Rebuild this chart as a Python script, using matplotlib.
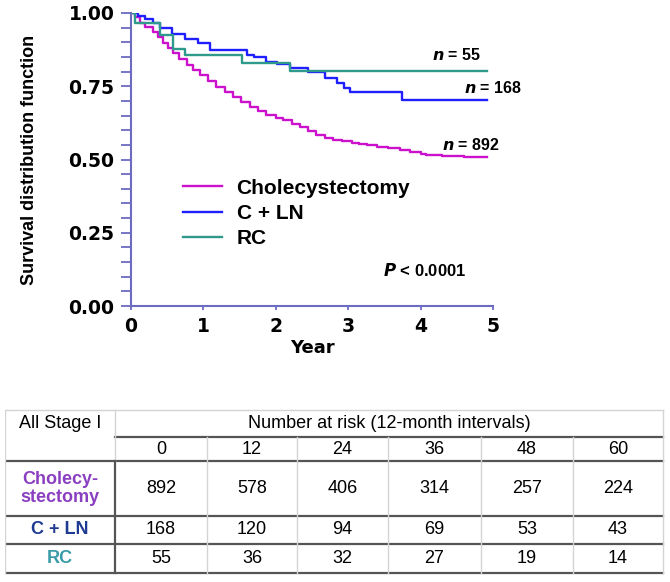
import numpy as np
import matplotlib
matplotlib.use('Agg')
import matplotlib.pyplot as plt

# Kaplan-Meier curves (years, survival)
chole_t = [0, 0.05, 0.12, 0.2, 0.3, 0.37, 0.44, 0.51, 0.58, 0.66, 0.77, 0.86, 0.95, 1.06,
           1.18, 1.3, 1.41, 1.52, 1.64, 1.75, 1.87, 2.0, 2.1, 2.22, 2.33, 2.45, 2.56, 2.68,
           2.79, 2.92, 3.05, 3.15, 3.26, 3.4, 3.55, 3.71, 3.85, 4.0, 4.08, 4.3, 4.6, 4.92]
chole_s = [1.0, 0.985, 0.965, 0.952, 0.936, 0.917, 0.897, 0.88, 0.863, 0.843, 0.822, 0.805,
           0.788, 0.768, 0.748, 0.731, 0.714, 0.697, 0.68, 0.666, 0.652, 0.642, 0.634, 0.622,
           0.611, 0.597, 0.583, 0.575, 0.568, 0.562, 0.557, 0.554, 0.549, 0.543, 0.538, 0.532,
           0.526, 0.52, 0.515, 0.512, 0.51, 0.507]
cln_t = [0, 0.1, 0.2, 0.3, 0.4, 0.57, 0.75, 0.93, 1.09, 1.6, 1.7, 1.87, 2.02, 2.2, 2.45,
         2.68, 2.85, 2.94, 3.02, 3.74, 4.92]
cln_s = [1.0, 0.99, 0.98, 0.965, 0.95, 0.93, 0.91, 0.897, 0.874, 0.857, 0.85, 0.834, 0.825,
         0.812, 0.80, 0.778, 0.76, 0.745, 0.731, 0.703, 0.703]
rc_t = [0, 0.05, 0.4, 0.58, 0.75, 1.53, 2.2, 4.92]
rc_s = [1.0, 0.965, 0.925, 0.877, 0.857, 0.83, 0.803, 0.803]

group_names = ['Cholecystectomy', 'C + LN', 'RC']
group_n = [892, 168, 55]

# number at risk table
risk_months = [0, 12, 24, 36, 48, 60]
risk_chole = [892, 578, 406, 314, 257, 224]
risk_cln = [168, 120, 94, 69, 53, 43]
risk_rc = [55, 36, 32, 27, 19, 14]
row_labels = ['Cholecy-\nstectomy', 'C + LN', 'RC']

c_chole = '#cc11cc'
c_cln = '#1f1fff'
c_rc = '#2f9a8c'
c_axis = '#6b6bbf'

fig = plt.figure(figsize=(6.7, 5.82), dpi=100)
ax = fig.add_axes([131 / 670, 1 - 306 / 582, 362 / 670, 293 / 582])

ax.plot(chole_t, chole_s, drawstyle='steps-post', color=c_chole, lw=1.7, label=group_names[0])
ax.plot(cln_t, cln_s, drawstyle='steps-post', color=c_cln, lw=1.7, label=group_names[1])
ax.plot(rc_t, rc_s, drawstyle='steps-post', color=c_rc, lw=1.7, label=group_names[2])

ax.set_xlim(0, 5)
ax.set_ylim(0, 1)
ax.set_xticks(range(6))
ax.set_yticks([0, 0.25, 0.5, 0.75, 1.0])
ax.set_yticklabels(['0.00', '0.25', '0.50', '0.75', '1.00'])
ax.set_yticks(np.arange(0, 1.001, 0.05), minor=True)
for s in ['top', 'right']:
    ax.spines[s].set_visible(False)
for s in ['left', 'bottom']:
    ax.spines[s].set_color(c_axis)
    ax.spines[s].set_linewidth(1.5)
ax.tick_params(axis='y', which='both', direction='out', length=7, width=1.3, color=c_axis, pad=5)
ax.tick_params(axis='x', direction='out', length=3, width=1.3, color=c_axis, pad=5)
for lab in ax.get_xticklabels() + ax.get_yticklabels():
    lab.set_fontfamily('DejaVu Sans')
    lab.set_fontweight('bold')
    lab.set_fontsize(13.5)
ax.set_xlabel('Year', family='DejaVu Sans', weight='bold', fontsize=13, labelpad=2)
ax.set_ylabel('Survival distribution function', family='Liberation Sans', weight='bold',
              fontsize=13, labelpad=22)

ax.legend(loc='upper left', bbox_to_anchor=(0.145, 0.435), frameon=False,
          prop={'family': 'Liberation Sans', 'weight': 'bold', 'size': 15},
          handlelength=1.85, handletextpad=0.7, labelspacing=0.3, borderaxespad=0,
          borderpad=0)

ax.text(4.5, 0.855, r'$\mathbfit{n}$ = %d' % group_n[2], family='Liberation Sans',
        weight='bold', fontsize=11.5, ha='center', va='center')
ax.text(5.0, 0.745, r'$\mathbfit{n}$ = %d' % group_n[1], family='Liberation Sans',
        weight='bold', fontsize=11.5, ha='center', va='center')
ax.text(4.7, 0.55, r'$\mathbfit{n}$ = %d' % group_n[0], family='Liberation Sans',
        weight='bold', fontsize=11.5, ha='center', va='center')
ax.text(4.06, 0.122, r'$\mathbfit{P}$ < 0.0001', family='Liberation Sans',
        weight='bold', fontsize=12, ha='center', va='center')

# risk table drawn in pixel units of the figure
tb = fig.add_axes([5 / 670, 1 - 575 / 582, 660 / 670, 167 / 582])
tb.set_xlim(5, 665)
tb.set_ylim(575, 408)
tb.axis('off')
col_x = [5, 115, 207, 297, 388, 481, 573, 663]
row_y = [410, 437, 461, 516, 544, 573]
light = '#d4d4d4'
dark = '#555555'
tb.plot([5, 663], [410, 410], color=light, lw=1)
tb.plot([115, 663], [437, 437], color=dark, lw=1.6)
for y in row_y[2:]:
    tb.plot([5, 663], [y, y], color=dark, lw=1.6)
tb.plot([5, 5], [410, 573], color=light, lw=1)
tb.plot([663, 663], [410, 573], color=light, lw=1)
tb.plot([115, 115], [410, 461], color=light, lw=1)
tb.plot([115, 115], [461, 573], color=dark, lw=1.6)
for x in col_x[2:-1]:
    tb.plot([x, x], [437, 573], color=light, lw=1)

tfont = {'family': 'Liberation Sans', 'fontsize': 13}
tb.text(60, 424, 'All Stage I', ha='center', va='center', **tfont)
tb.text(389, 424, 'Number at risk (12-month intervals)', ha='center', va='center', **tfont)
rows = [risk_chole, risk_cln, risk_rc]
row_cols = ['#8a3fc0', '#1f3a93', '#3a9aa8']
for j, m in enumerate(risk_months):
    cx = (col_x[j + 1] + col_x[j + 2]) / 2
    tb.text(cx, 449, str(m), ha='center', va='center', **tfont)
    for i, vals in enumerate(rows):
        cy = (row_y[i + 2] + row_y[i + 3]) / 2
        tb.text(cx, cy, str(vals[j]), ha='center', va='center', **tfont)
for i, lab in enumerate(row_labels):
    cy = (row_y[i + 2] + row_y[i + 3]) / 2
    tb.text(60, cy, lab, ha='center', va='center', color=row_cols[i], weight='bold',
            family='Liberation Sans', fontsize=13, linespacing=1.15)

plt.savefig('out.png', dpi=100)
